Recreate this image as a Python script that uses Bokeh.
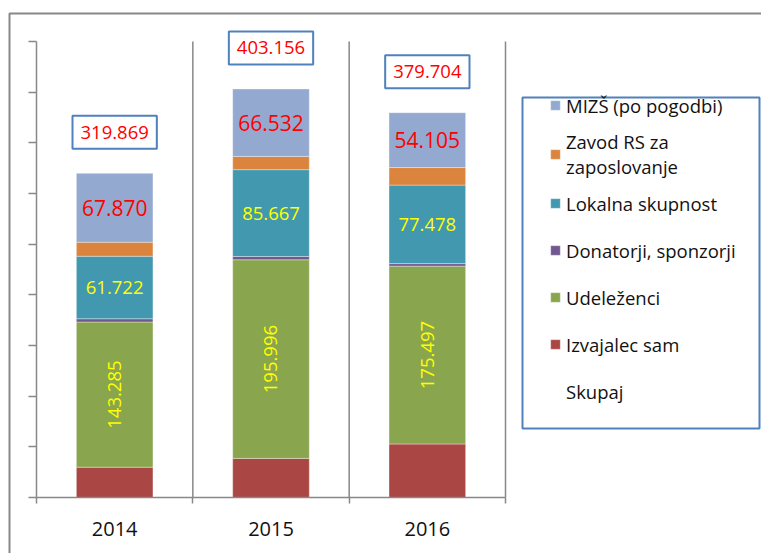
import numpy as np
from bokeh.plotting import figure
from bokeh.models import (ColumnDataSource, Range1d, LinearAxis, FixedTicker, Legend, LegendItem,
                          LabelSet, Label, BoxAnnotation)
from bokeh.core.properties import value
from bokeh.embed import file_html
from bokeh.resources import INLINE

# ---- data (thousand EUR) ----
years = ["2014", "2015", "2016"]
izvajalec = [29.9, 38.6, 52.8]
udelezenci = [143.285, 195.996, 175.497]
donatorji = [3.19, 3.26, 2.52]
lokalna = [61.722, 85.667, 77.478]
zavod = [13.9, 13.1, 17.3]
mizs = [67.870, 66.532, 54.105]
skupaj = [319.869, 403.156, 379.704]
y_ticks = [0, 50, 100, 150, 200, 250, 300, 350, 400, 450]

series_keys = ["izv", "ude", "don", "lok", "zav", "miz"]
series_names = ["Izvajalec sam", "Udeleženci", "Donatorji, sponzorji",
                "Lokalna skupnost", "Zavod RS za\nzaposlovanje", "MIZŠ (po pogodbi)"]
total_name = "Skupaj"
colors = ["#AA4643", "#89A54E", "#71588F", "#4198AF", "#DB843D", "#93A9CF"]

FONT = "Open Sans"
GRAY = "#888888"

def fmt(v):
    return f"{v:.3f}"

# category i occupies [i, i+1] on the x scale
xpos = list(np.arange(len(years)) + 0.5)
edges = list(range(len(years) + 1))

vals = [izvajalec, udelezenci, donatorji, lokalna, zavod, mizs]
data = dict(x=xpos, skupaj=skupaj)
for k, v in zip(series_keys, vals):
    data[k] = v
arr = np.array(vals)
mids = np.cumsum(arr, axis=0) - arr / 2.0
data["mid_ude"] = mids[1]
data["mid_lok"] = mids[3]
data["mid_miz"] = mids[5]
data["ude_txt"] = [fmt(v) for v in udelezenci]
data["lok_txt"] = [fmt(v) for v in lokalna]
data["miz_txt"] = [fmt(v) for v in mizs]
src = ColumnDataSource(data)

W, H = 761, 553
# frame = whole canvas; plot area (0..3, 0..450) sits at x 36..505, y 41..497
PX_X = (505 - 36) / 3.0
PX_Y = (497 - 41) / 450.0
x_range = Range1d(-36 / PX_X, 3 + (W - 505) / PX_X)
y_range = Range1d(-(H - 497) / PX_Y, 450 + 41 / PX_Y)

p = figure(x_range=x_range, y_range=y_range, width=W, height=H,
           output_backend="svg", toolbar_location=None,
           x_axis_location=None, y_axis_location=None, min_border=0,
           outline_line_color=None, background_fill_color="white", border_fill_color="white")
p.center = []

# y axis (ticks only, no labels)
yax = LinearAxis(ticker=FixedTicker(ticks=y_ticks), fixed_location=0,
                 bounds=(y_ticks[0], y_ticks[-1]),
                 major_label_overrides={t: "" for t in y_ticks}, major_label_standoff=0,
                 major_tick_in=0, major_tick_out=8, minor_tick_line_color=None,
                 axis_line_color=GRAY, axis_line_width=1.5,
                 major_tick_line_color=GRAY, major_tick_line_width=1.5)
p.add_layout(yax, "left")

# x axis: line + ticks at category boundaries
xedge = LinearAxis(ticker=FixedTicker(ticks=edges), fixed_location=0,
                   bounds=(edges[0], edges[-1]),
                   major_label_overrides={t: "" for t in edges}, major_label_standoff=0,
                   major_tick_in=0, major_tick_out=6, minor_tick_line_color=None,
                   axis_line_color=GRAY, axis_line_width=1.5,
                   major_tick_line_color=GRAY, major_tick_line_width=1.5)
p.add_layout(xedge, "below")
# x axis: category labels
xlab = LinearAxis(ticker=FixedTicker(ticks=xpos), fixed_location=0,
                  major_label_overrides={xv: yr for xv, yr in zip(xpos, years)},
                  axis_line_color=None, major_tick_line_color=None,
                  minor_tick_line_color=None, major_tick_in=0, major_tick_out=0,
                  major_label_standoff=24, major_label_text_font=FONT,
                  major_label_text_font_size="20px", major_label_text_color="#111111")
p.add_layout(xlab, "below")

# vertical separators between categories
p.segment(x0=edges[1:], y0=y_ticks[0], x1=edges[1:], y1=y_ticks[-1],
          line_color=GRAY, line_width=1.5)

renderers = p.vbar_stack(series_keys, x="x", width=0.49, color=colors, source=src,
                         line_color="white", line_width=0.6, line_alpha=0.6)
r_total = p.vbar(x="x", top="skupaj", width=0.49, source=src, fill_alpha=0, line_alpha=0)

# value labels
p.add_layout(LabelSet(x="x", y="mid_miz", text="miz_txt", source=src, text_color="#FF0000",
                      text_font=value(FONT), text_font_size="21px", text_align="center",
                      text_baseline="middle"))
p.add_layout(LabelSet(x="x", y="mid_lok", text="lok_txt", source=src, text_color="#FFFF00",
                      text_font=value(FONT), text_font_size="18.5px", text_align="center",
                      text_baseline="middle"))
p.add_layout(LabelSet(x="x", y="mid_ude", text="ude_txt", source=src, text_color="#FFFF00",
                      text_font=value(FONT), text_font_size="18.5px", text_align="center",
                      text_baseline="middle", angle=np.pi / 2))
for xv, tot in zip(xpos, skupaj):
    p.add_layout(Label(x=xv, y=tot, text=fmt(tot), y_offset=41,
                       text_color="#FF0000", text_font=FONT, text_font_size="18.5px",
                       text_align="center", text_baseline="middle",
                       background_fill_color="white", border_line_color="#4F81BD",
                       border_line_width=2, padding=dict(left=8, right=8, top=10, bottom=10)))

# legend
order = [5, 4, 3, 2, 1, 0]
items = [LegendItem(label=series_names[i], renderers=[renderers[i]]) for i in order]
items.append(LegendItem(label=total_name, renderers=[r_total]))
legend = Legend(items=items, location=(549, 139), padding=0, spacing=1, label_height=46,
                glyph_height=12, glyph_width=12, label_standoff=5, margin=0,
                label_text_font=FONT, label_text_font_size="18.5px",
                label_text_color="#111111", border_line_color=None,
                background_fill_alpha=0)
p.add_layout(legend)

# legend frame
p.add_layout(BoxAnnotation(left=522, right=759, top=97, bottom=428,
                           left_units="canvas", right_units="canvas",
                           top_units="canvas", bottom_units="canvas",
                           fill_color=None, fill_alpha=0, line_color="#4F81BD",
                           line_alpha=1.0, line_width=2))
# outer chart border
p.add_layout(BoxAnnotation(left=9, right=3000, top=13, bottom=3000,
                           left_units="canvas", right_units="canvas",
                           top_units="canvas", bottom_units="canvas",
                           fill_color=None, fill_alpha=0, line_color=GRAY,
                           line_alpha=1.0, line_width=2))

open("out.html", "w").write(file_html(p, INLINE))
